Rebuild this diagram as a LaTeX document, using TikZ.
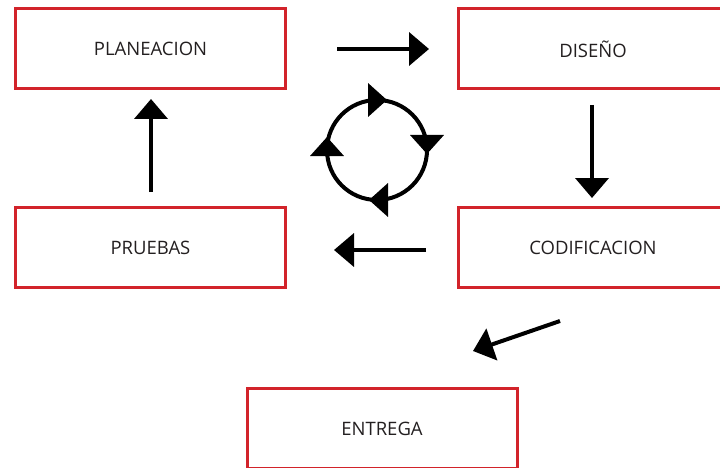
\documentclass[tikz,border=0pt]{standalone}
\usepackage{fontspec}
\setmainfont{Open Sans}
\usetikzlibrary{arrows.meta}
\definecolor{boxred}{HTML}{D2232A}
\definecolor{ink}{HTML}{231F20}
\tikzset{cychead/.tip={Triangle[length=19pt,width=33pt]}}
\begin{document}
\begin{tikzpicture}[x=1pt,y=-1pt,
  stage/.style={draw=boxred,line width=3pt,minimum width=270pt,minimum height=80pt,
    inner sep=0pt,font=\fontsize{18.5}{20}\selectfont,text=ink},
  flow/.style={line width=4pt,-{Triangle[length=20pt,width=33pt]}},
  turn/.style={line width=4pt,-{cychead}}]
\useasboundingbox (0,0) rectangle (720,468);
% stages
\node[stage] (plan) at (150.5,49) {PLANEACION};
\node[stage] (dis)  at (593,49) {DISEÑO};
\node[stage] (cod)  at (593,247.5) {CODIFICACION};
\node[stage] (pru)  at (150.5,247.5) {PRUEBAS};
\node[stage] (ent)  at (382,428.5) {ENTREGA};
% arrow end points between the stages
\coordinate (a1) at (337,49);   \coordinate (b1) at (429,49);
\coordinate (a2) at (592,105);  \coordinate (b2) at (592,198);
\coordinate (a3) at (426,250);  \coordinate (b3) at (334,250);
\coordinate (a4) at (151,192);  \coordinate (b4) at (151,99);
\coordinate (a5) at (560,321);  \coordinate (b5) at (473,351);
\draw[flow] (a1) -- (b1);
\draw[flow] (a2) -- (b2);
\draw[flow] (a3) -- (b3);
\draw[flow] (a4) -- (b4);
\draw[flow] (a5) -- (b5);
% clockwise cycle symbol: ring plus four tangent heads
\coordinate (cyc) at (377,150);
\draw[line width=4pt] (cyc) circle[radius=50];
\draw[turn] ([shift={(-9,-50)}]cyc) -- ([shift={(10,-50)}]cyc);
\draw[turn] ([shift={(50,-15)}]cyc) -- ([shift={(50,4)}]cyc);
\draw[turn] ([shift={(11,50)}]cyc) -- ([shift={(-8,50)}]cyc);
\draw[turn] ([shift={(-50,6)}]cyc) -- ([shift={(-50,-13)}]cyc);
\end{tikzpicture}
\end{document}
